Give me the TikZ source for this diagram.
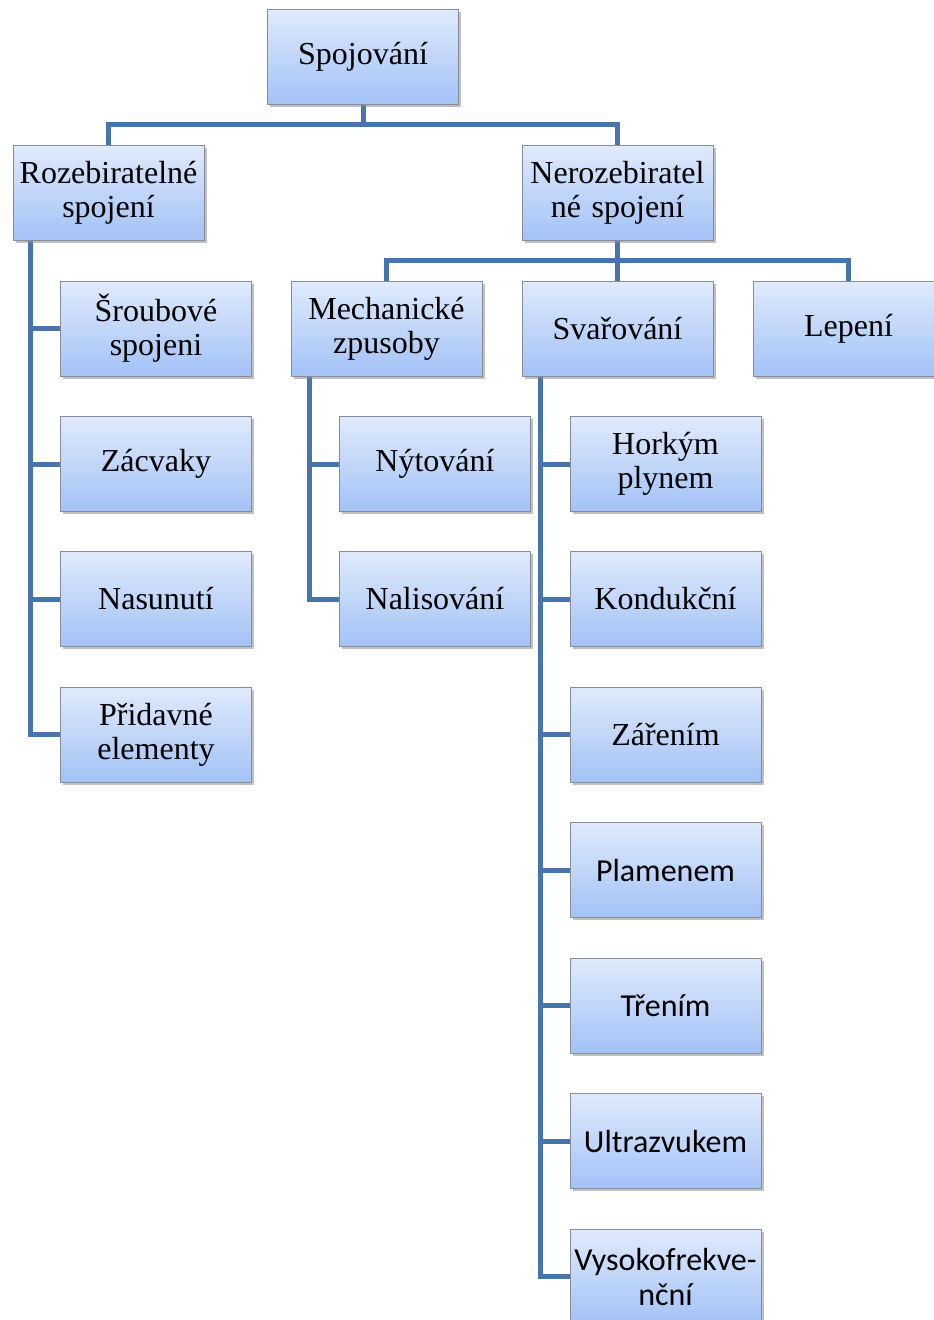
\documentclass[tikz,border=0pt]{standalone}
\usepackage{fontspec}
\setmainfont{Liberation Serif}
\newfontfamily\sansf{Carlito}
\usetikzlibrary{shadows,backgrounds}
\definecolor{conncol}{RGB}{72,116,172}
\definecolor{boxtop}{RGB}{224,234,252}
\definecolor{boxbot}{RGB}{162,194,246}
\definecolor{boxline}{RGB}{135,140,155}
\tikzset{
  box/.style={rectangle, draw=boxline, line width=1pt, top color=boxtop, bottom color=boxbot,
    minimum width=191pt, minimum height=95pt, text width=187pt, align=center,
    font=\fontsize{32}{34}\selectfont, inner sep=2pt,
    drop shadow={shadow xshift=2.5pt, shadow yshift=-2.5pt, fill=black!45, opacity=0.55}},
  sbox/.style={box, font=\sansf\fontsize{32}{35}\selectfont},
  conn/.style={draw=conncol, line width=5pt}
}
\begin{document}
\begin{tikzpicture}[x=1pt,y=-1pt]
\useasboundingbox (0,0) rectangle (934,1320);
\clip (0,0) rectangle (934,1320);
\node[box] (top) at (363,56.5) {Spojování};
\node[box] (roz) at (108.5,192.5) {Rozebiratelné\\spojení};
\node[box] (ner) at (617.5,192.5) {Nerozebiratel\\né spojení};
\node[box] (srob) at (156,328.5) {Šroubové\\spojeni};
\node[box] (zac) at (156,464) {Zácvaky};
\node[box] (nas) at (156,599) {Nasunutí};
\node[box] (prid) at (156,734.5) {Přidavné\\elementy};
\node[box] (mech) at (386.5,328.5) {Mechanické\\zpusoby};
\node[box] (svar) at (617.5,328.5) {Svařování};
\node[box] (lep) at (848.5,328.5) {Lepení};
\node[box] (nyt) at (435,464) {Nýtování};
\node[box] (nal) at (435,599) {Nalisování};
\node[box] (hork) at (665.5,464) {Horkým\\plynem};
\node[box] (kond) at (665.5,599) {Kondukční};
\node[box] (zar) at (665.5,734.5) {Zářením};
\node[sbox] (plam) at (665.5,870) {Plamenem};
\node[sbox] (tren) at (665.5,1005.5) {Třením};
\node[sbox] (ultra) at (665.5,1141) {Ultrazvukem};
\node[sbox, text width=191pt, inner sep=0pt] (vys) at (665.5,1276.5) {\makebox[0pt]{Vysokofrekve-}\\nční};
\begin{scope}[on background layer]
\coordinate (hb) at (363,124);
\coordinate (hb2) at (617.5,260);
\draw[conn] (top.south) -- (top.south |- hb);
\draw[conn] (roz.north) |- (hb) -| (ner.north);
\draw[conn] (ner.south) -- (ner.south |- hb2);
\draw[conn] (mech.north) |- (hb2) -| (lep.north);
\draw[conn] (svar.north) -- (svar.north |- hb2);
\coordinate (sL) at ([xshift=18pt]roz.south west);
\draw[conn] (sL) |- (prid.west);
\foreach \n in {srob,zac,nas} \draw[conn] (sL |- \n.west) -- (\n.west);
\coordinate (sM) at ([xshift=19pt]mech.south west);
\draw[conn] (sM) |- (nal.west);
\draw[conn] (sM |- nyt.west) -- (nyt.west);
\coordinate (sS) at ([xshift=19pt]svar.south west);
\draw[conn] (sS) |- (vys.west);
\foreach \n in {hork,kond,zar,plam,tren,ultra} \draw[conn] (sS |- \n.west) -- (\n.west);
\end{scope}
\end{tikzpicture}
\end{document}
